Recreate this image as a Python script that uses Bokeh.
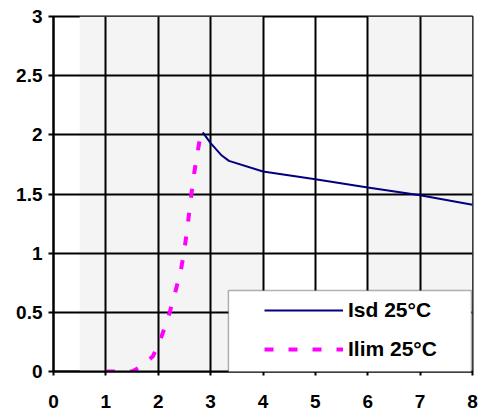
from bokeh.plotting import figure
from bokeh.models import Range1d, FixedTicker, BoxAnnotation, Legend, LegendItem
from bokeh.embed import file_html
from bokeh.resources import INLINE

# ---- data ----
isd_x = [2.85, 3.0, 3.2, 3.35, 4.0, 5.0, 6.0, 7.0, 8.0]
isd_y = [2.02, 1.93, 1.83, 1.78, 1.69, 1.625, 1.555, 1.49, 1.41]

ilim_x = [1.0, 1.5, 1.7, 1.9, 2.05, 2.2, 2.33, 2.43, 2.5, 2.56, 2.62, 2.68, 2.75, 2.82]
ilim_y = [0.0, 0.0, 0.05, 0.13, 0.28, 0.47, 0.68, 0.85, 1.03, 1.23, 1.45, 1.66, 1.85, 2.03]

x_ticks = [0, 1, 2, 3, 4, 5, 6, 7, 8]
x_tick_labels = ["0", "1", "2", "3", "4", "5", "6", "7", "8"]
y_ticks = [0, 0.5, 1, 1.5, 2, 2.5, 3]
y_tick_labels = ["0", "0.5", "1", "1.5", "2", "2.5", "3"]

series_names = ["Isd 25°C", "Ilim 25°C"]

FONT = "Liberation Sans"

p = figure(width=479, height=415, output_backend="svg", toolbar_location=None,
           x_range=Range1d(0, 8), y_range=Range1d(0, 3),
           min_border_left=53, min_border_right=7, min_border_top=16, min_border_bottom=44)

p.background_fill_color = "white"
p.border_fill_color = "white"
p.outline_line_color = "black"
p.outline_line_width = 2

# background bands
p.add_layout(BoxAnnotation(left=0.5, right=4, fill_color="#F4F4F4", fill_alpha=1,
                           line_alpha=0, level="image"))
p.add_layout(BoxAnnotation(left=6, right=8, fill_color="#F4F4F4", fill_alpha=1,
                           line_alpha=0, level="image"))

for ax, ticks, labels in ((p.xaxis, x_ticks, x_tick_labels), (p.yaxis, y_ticks, y_tick_labels)):
    ax.ticker = FixedTicker(ticks=ticks)
    ax.major_label_overrides = {t: l for t, l in zip(ticks, labels)}
    ax.minor_tick_line_color = None
    ax.axis_line_color = "black"
    ax.axis_line_width = 2
    ax.major_tick_line_color = "black"
    ax.major_tick_line_width = 2
    ax.major_tick_in = 0
    ax.major_label_text_font = FONT
    ax.major_label_text_font_style = "bold"
    ax.major_label_text_font_size = "19px"
    ax.major_label_text_color = "black"

p.xaxis.major_tick_out = 4
p.yaxis.major_tick_out = 5
p.xaxis.major_label_standoff = 19
p.yaxis.major_label_standoff = 6

p.xgrid.ticker = FixedTicker(ticks=x_ticks)
p.ygrid.ticker = FixedTicker(ticks=y_ticks)
for g in (p.xgrid, p.ygrid):
    g.grid_line_color = "black"
    g.grid_line_width = 2
    g.grid_line_alpha = 1
    g.level = "underlay"

r_isd = p.line(isd_x, isd_y, line_color="#000080", line_width=2)
r_ilim = p.line(ilim_x, ilim_y, line_color="#FF00FF", line_width=4, line_dash="9 15")

# legend box
p.add_layout(BoxAnnotation(left=3.34, right=7.98, bottom=-0.03, top=0.685,
                           fill_color="white", fill_alpha=1, line_color="black",
                           line_width=1.5, level="overlay"))

legend = Legend(items=[LegendItem(label=series_names[0], renderers=[r_isd]),
                       LegendItem(label=series_names[1], renderers=[r_ilim])],
                location=(211, 10), padding=0, margin=0, spacing=15,
                glyph_width=79, glyph_height=24, label_height=24, label_standoff=5,
                label_text_font=FONT, label_text_font_style="bold",
                label_text_font_size="21px", label_text_color="black",
                border_line_alpha=0, background_fill_alpha=0)
p.add_layout(legend, "center")

open("out.html", "w").write(file_html(p, INLINE))
